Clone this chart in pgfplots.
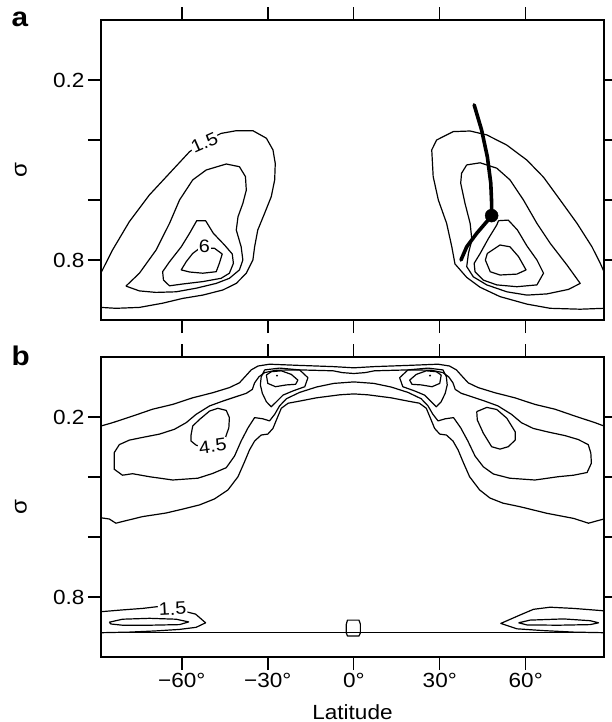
\documentclass[border=0pt]{standalone}
\usepackage{pgfplots}
\pgfplotsset{compat=1.18}
\usepackage{fontspec}
\setmainfont{Liberation Sans}[FakeStretch=1.1]

\pgfplotsset{
  panel/.style={
    scale only axis, width=503pt, height=300pt,
    xmin=-88.2, xmax=87.3, ymin=0, ymax=1, y dir=reverse,
    xtick={-60,-30,0,30,60}, ytick={0.2,0.4,0.6,0.8},
    yticklabels={0.2,,,0.8},
    tick align=outside, major tick length=13pt,
    xtick pos=both, ytick pos=both, ticklabel pos=left,
    axis line style={line width=1.4pt},
    every tick/.style={black, line width=1.4pt},
    tick label style={font=\fontsize{20.5}{23}\selectfont},
    ylabel={σ},
    every axis y label/.style={at={(axis description cs:0,0.5)}, xshift=-80pt,
      rotate=90, anchor=center, font=\fontsize{22}{23}\selectfont},
  },
  contour/.style={black, line width=1.2pt, mark=none, line join=round},
}
\tikzset{clab/.style={fill=white, inner sep=0.8pt, font=\fontsize{18}{18}\selectfont}}

\begin{document}
\begin{tikzpicture}
\path[use as bounding box] (0,0) rectangle (612pt,-722pt);

% ---------------- panel a ----------------
\begin{axis}[panel, at={(101pt,-20pt)}, anchor=north west, xticklabels={}]
% left lobe
\addplot[contour] coordinates {(-88.0,0.839) (-84.2,0.767) (-78.3,0.672) (-71.3,0.583) (-64.3,0.511) (-57.3,0.439) (-52,0.405) (-46.3,0.378) (-41.0,0.369) (-35.2,0.369) (-30.5,0.394) (-28.2,0.433) (-27.4,0.478) (-27.6,0.533) (-28.8,0.589) (-31.1,0.644) (-33.5,0.700) (-34.6,0.756) (-35.2,0.800) (-37.5,0.844) (-41.0,0.878) (-45.7,0.900) (-52.7,0.917) (-59.7,0.928) (-66.7,0.944) (-74.8,0.958) (-83.0,0.961) (-88.2,0.958)};
\addplot[contour] coordinates {(-79.5,0.887) (-74.8,0.844) (-69.0,0.767) (-64.3,0.678) (-60.8,0.600) (-56.2,0.533) (-51.5,0.500) (-44.5,0.480) (-39.9,0.489) (-37.8,0.522) (-37.5,0.567) (-38.7,0.611) (-40.4,0.656) (-41.0,0.700) (-39.3,0.756) (-38.7,0.800) (-39.9,0.833) (-43.4,0.861) (-48.0,0.878) (-55.0,0.894) (-62.0,0.906) (-69.0,0.908) (-74.8,0.903) (-79.5,0.887)};
\addplot[contour] coordinates {(-66.7,0.839) (-64.3,0.806) (-60.2,0.756) (-57.3,0.711) (-54.8,0.669) (-51.7,0.669) (-49.0,0.711) (-45.1,0.750) (-42.4,0.780) (-42.0,0.811) (-43.4,0.844) (-46.3,0.861) (-52.7,0.872) (-59.7,0.880) (-64.3,0.886) (-66.4,0.867) (-66.7,0.839)};
\addplot[contour] coordinates {(-53.8,0.761) (-48.6,0.761) (-45.9,0.780) (-46.9,0.811) (-48.0,0.839) (-52.7,0.844) (-57.3,0.840) (-60.2,0.833) (-58.5,0.806) (-56.2,0.778) (-53.8,0.761)};
% right lobe
\addplot[contour] coordinates {(87.3,0.961) (79.0,0.964) (68.5,0.961) (60.4,0.947) (51.0,0.922) (44.1,0.891) (39.4,0.858) (35.3,0.813) (34.2,0.756) (32.4,0.678) (29.5,0.600) (27.7,0.522) (27.2,0.433) (28.9,0.400) (34.7,0.372) (40.6,0.370) (46.4,0.383) (53.4,0.417) (60.4,0.467) (66.2,0.524) (72.0,0.600) (77.9,0.678) (83.1,0.756) (86.0,0.811) (87.3,0.839)};
\addplot[contour] coordinates {(39.4,0.483) (44.1,0.476) (49.9,0.494) (54.5,0.533) (59.2,0.600) (63.9,0.678) (68.5,0.744) (74.4,0.817) (79.0,0.878) (74.9,0.898) (67.4,0.913) (60.4,0.917) (53.4,0.906) (46.4,0.883) (41.7,0.856) (39.4,0.822) (40.0,0.778) (41.2,0.733) (40.6,0.678) (38.8,0.611) (37.3,0.544) (37.6,0.511) (39.4,0.483)};
\addplot[contour] coordinates {(50.5,0.669) (53.9,0.667) (57.1,0.700) (60.4,0.753) (63.9,0.800) (66.2,0.844) (63.9,0.883) (56.9,0.889) (49.9,0.883) (45.2,0.867) (42.3,0.839) (42.0,0.811) (44.1,0.778) (47.0,0.728) (49.9,0.683) (50.5,0.669)};
\addplot[contour] coordinates {(46.6,0.778) (51.0,0.750) (54.5,0.756) (57.5,0.789) (60.1,0.833) (56.9,0.847) (51.0,0.850) (47.6,0.839) (45.9,0.800) (46.6,0.778)};
% thick track with dot
\addplot[black, line width=3.6pt, mark=none, line cap=round] coordinates {(42.0,0.283) (44.6,0.367) (46.6,0.456) (47.8,0.544) (48.1,0.611) (48.1,0.652) (46.4,0.672) (42.9,0.711) (39.4,0.756) (37.4,0.800)};
\addplot[black, only marks, mark=*, mark size=6.5pt] coordinates {(48.1,0.652)};
\node[clab, rotate=24] at (axis cs:-52.1,0.409) {1.5};
\node[clab] at (axis cs:-52.1,0.753) {6};
\end{axis}

% ---------------- panel b ----------------
\begin{axis}[panel, at={(101pt,-357pt)}, anchor=north west,
  xticklabels={−60°,−30°,0°,30°,60°},
  xlabel={Latitude},
  every axis x label/.style={at={(axis description cs:0.5,0)}, yshift=-62pt,
    anchor=base, font=\fontsize{20.5}{23}\selectfont}]
% outermost line along the top
\addplot[contour] coordinates {(-88.2,0.230) (-84.2,0.219) (-77.2,0.197) (-70.2,0.174) (-63.2,0.158) (-56.2,0.136) (-49.2,0.119) (-43.4,0.102) (-39.9,0.086) (-37.5,0.061) (-35.8,0.043) (-33.4,0.030) (-29.4,0.024) (-18.9,0.028) (-7.2,0.032) (0,0.036) (7.2,0.032) (18.9,0.028) (29.4,0.024) (33.4,0.030) (35.8,0.043) (37.5,0.061) (39.9,0.086) (43.4,0.102) (49.2,0.119) (56.2,0.136) (63.2,0.158) (70.2,0.174) (77.2,0.197) (84.2,0.219) (87.3,0.230)};
% lobes, joined along the top and through the upper arch
\addplot[contour] coordinates {(-83.6,0.319) (-81.8,0.292) (-78.3,0.277) (-73.7,0.268) (-67.8,0.257) (-62.6,0.241) (-58.5,0.219) (-55.0,0.191) (-50.3,0.163) (-45.7,0.147) (-41.0,0.132) (-37.5,0.121) (-35.4,0.108) (-34.6,0.086) (-33.1,0.066) (-31.1,0.052) (-27.0,0.044) (-18.9,0.043) (-7.2,0.046) (-4,0.052) (0,0.055) (4,0.052) (7.2,0.046) (18.9,0.043) (27.0,0.044) (31.1,0.052) (33.1,0.066) (34.6,0.086) (35.4,0.108) (37.5,0.121) (41.0,0.132) (45.7,0.147) (50.3,0.163) (55.0,0.191) (58.5,0.219) (62.6,0.238) (67.8,0.250) (73.7,0.262) (78.3,0.275) (81.8,0.292) (82.7,0.320) (82.9,0.354) (81.4,0.385) (76.7,0.394) (71.3,0.399) (63.2,0.410) (54.4,0.404) (48.7,0.390) (45.2,0.366) (42.3,0.330) (39.8,0.280) (37.3,0.236) (34.8,0.202) (31.9,0.206) (29.4,0.213) (27.6,0.191) (25.9,0.163) (23.5,0.139) (18.9,0.118) (13,0.100) (7,0.088) (0,0.083) (-7,0.088) (-13,0.100) (-18.9,0.118) (-23.5,0.139) (-25.9,0.163) (-27.6,0.191) (-29.4,0.213) (-31.7,0.206) (-34.6,0.202) (-36.9,0.236) (-39.3,0.280) (-41.6,0.330) (-44.5,0.369) (-49.2,0.388) (-54.4,0.404) (-63.2,0.410) (-71.3,0.399) (-77.2,0.389) (-80.7,0.394) (-83.6,0.374) (-83.6,0.319)};
% lower arch line
\addplot[contour] coordinates {(-88.2,0.536) (-85.3,0.540) (-83.0,0.554) (-80.1,0.547) (-73.7,0.532) (-65.5,0.520) (-59.7,0.507) (-53.8,0.493) (-48.6,0.473) (-43.9,0.443) (-40.4,0.399) (-38.1,0.349) (-36.4,0.310) (-34.6,0.280) (-32.3,0.260) (-30.0,0.257) (-28.2,0.238) (-27.0,0.210) (-25.3,0.171) (-22.9,0.154) (-18.9,0.147) (-13.0,0.136) (-4.9,0.126) (0,0.123) (4.9,0.126) (13.0,0.136) (18.9,0.147) (22.9,0.154) (25.3,0.171) (27.0,0.210) (28.2,0.238) (30.0,0.257) (32.3,0.260) (34.6,0.280) (36.4,0.310) (38.1,0.349) (40.4,0.399) (43.9,0.443) (47.5,0.470) (52.0,0.487) (58.0,0.499) (67.4,0.521) (76.7,0.538) (81.9,0.554) (84.9,0.546) (87.3,0.540)};
% rings round the two upper maxima
\addplot[contour] coordinates {(-32.6,0.093) (-32.3,0.066) (-31.1,0.043) (-25.9,0.037) (-18.9,0.043) (-16.0,0.069) (-17.1,0.099) (-21.2,0.113) (-24.7,0.127) (-27.0,0.149) (-28.8,0.166) (-30.5,0.149) (-31.9,0.121) (-32.6,0.093)};
\addplot[contour] coordinates {(-30.5,0.060) (-28.8,0.049) (-25.3,0.046) (-21.8,0.058) (-19.5,0.077) (-20.3,0.091) (-23.5,0.093) (-27.3,0.099) (-30.0,0.088) (-30.5,0.060)};
\addplot[contour] coordinates {(32.6,0.093) (32.3,0.066) (31.1,0.043) (25.9,0.037) (18.9,0.043) (16.0,0.069) (17.1,0.099) (21.2,0.113) (24.7,0.127) (27.0,0.149) (28.8,0.166) (30.5,0.149) (31.9,0.121) (32.6,0.093)};
\addplot[contour] coordinates {(30.5,0.060) (28.8,0.049) (25.3,0.046) (21.8,0.058) (19.5,0.077) (20.3,0.091) (23.5,0.093) (27.3,0.099) (30.0,0.088) (30.5,0.060)};
\addplot[black, only marks, mark=*, mark size=0.8pt] coordinates {(-26.8,0.062) (26.6,0.062)};
% 4.5 maxima
\addplot[contour] coordinates {(-55.0,0.294) (-56.8,0.280) (-56.8,0.261) (-56.2,0.230) (-53.8,0.208) (-50.3,0.180) (-47.4,0.171) (-44.5,0.178) (-43.4,0.202) (-43.6,0.236) (-44.8,0.269) (-46.5,0.300) (-50,0.306) (-55.0,0.294)};
\addplot[contour] coordinates {(42.9,0.182) (46.4,0.168) (49.9,0.175) (53.4,0.204) (56.3,0.249) (56.3,0.277) (53.9,0.299) (51.0,0.307) (48.1,0.299) (45.2,0.254) (43.1,0.210) (42.9,0.182)};
% near-surface contours
\addplot[contour] coordinates {(-88.2,0.919) (87.3,0.919)};
\addplot[contour] coordinates {(-88.2,0.849) (-80.7,0.843) (-73.7,0.838) (-68.4,0.832) (-63.2,0.840) (-58.5,0.849) (-55.2,0.857) (-51.7,0.886) (-55.0,0.901) (-60.8,0.908) (-69.0,0.913) (-78.3,0.917) (-88.2,0.919)};
\addplot[contour] coordinates {(-85.3,0.884) (-80.7,0.874) (-71.3,0.871) (-62.0,0.874) (-57.6,0.883) (-60.8,0.892) (-71.3,0.894) (-80.7,0.894) (-84.7,0.890) (-85.3,0.884)};
\addplot[contour] coordinates {(87.3,0.846) (76.7,0.838) (68.5,0.834) (62.7,0.841) (58.0,0.860) (51.3,0.888) (56.9,0.906) (66.2,0.912) (76.7,0.917) (87.3,0.919)};
\addplot[contour] coordinates {(57.5,0.886) (61.5,0.877) (73.2,0.873) (82.5,0.879) (85.4,0.886) (82.5,0.892) (71.3,0.894) (60.4,0.893) (57.5,0.886)};
\addplot[contour] coordinates {(-2.6,0.890) (-2.2,0.877) (1.8,0.877) (2.3,0.890) (2.3,0.920) (1.8,0.930) (-2.2,0.930) (-2.6,0.920) (-2.6,0.890)};
\node[clab, rotate=8] at (axis cs:-49.2,0.297) {4.5};
\node[clab, rotate=3] at (axis cs:-63.2,0.840) {1.5};
\end{axis}

\node[anchor=base west, font=\fontsize{27}{27}\bfseries\selectfont] at (8pt,-27pt) {a};
\node[anchor=base west, font=\fontsize{27}{27}\bfseries\selectfont] at (8pt,-365pt) {b};
\end{tikzpicture}
\end{document}
